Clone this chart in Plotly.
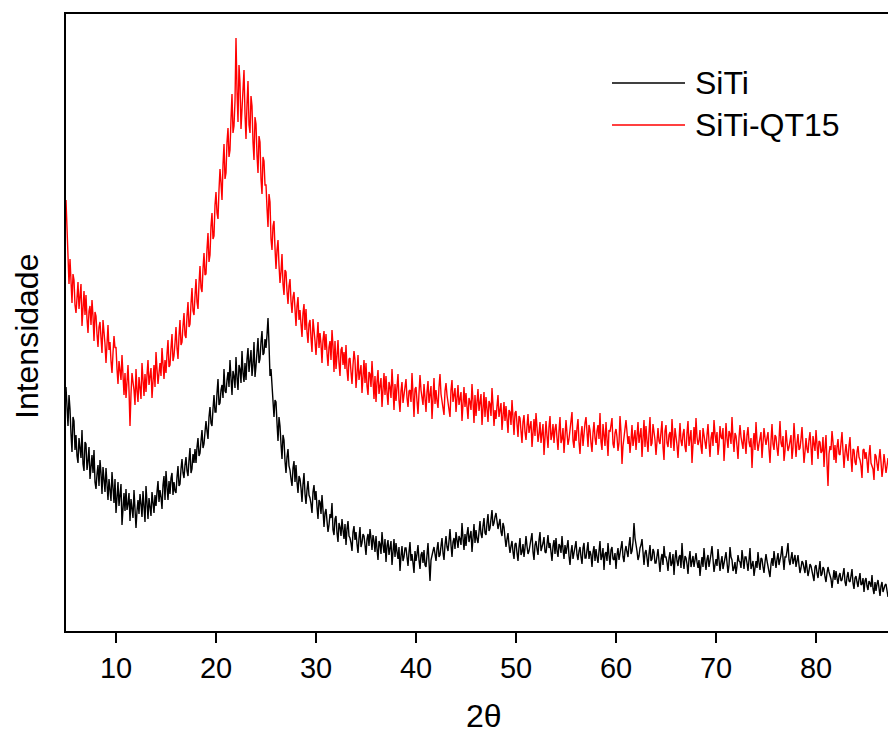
import numpy as np
import plotly.graph_objects as go

# 2-theta scan grid (degrees), 0.1 deg step
two_theta = np.round(np.arange(5.0, 87.2 + 1e-9, 0.1), 1)

# Diffracted intensity (a.u.) for each sample, one row per degree
siti = [
    244, 218, 205, 236, 222, 197, 179, 214, 210, 181,
    196, 175, 168, 193, 182, 173, 201, 167, 160, 189,
    187, 161, 170, 184, 152, 171, 176, 158, 181, 149,
    142, 157, 166, 145, 171, 158, 137, 164, 150, 139,
    163, 144, 131, 152, 140, 130, 159, 141, 128, 152,
    118, 133, 149, 125, 139, 147, 106, 129, 138, 120,
    142, 121, 127, 138, 110, 132, 119, 113, 141, 124,
    103, 120, 131, 117, 137, 127, 114, 140, 126, 109,
    145, 127, 112, 133, 124, 115, 139, 128, 118, 136,
    125, 139, 150, 129, 141, 134, 122, 146, 155, 131,
    160, 144, 131, 150, 137, 153, 158, 136, 149, 140,
    138, 154, 165, 145, 147, 162, 172, 158, 153, 166,
    174, 160, 155, 171, 183, 158, 162, 177, 168, 182,
    168, 184, 193, 175, 178, 190, 201, 183, 187, 199,
    210, 200, 192, 214, 224, 208, 205, 222, 236, 219,
    219, 238, 252, 226, 228, 241, 246, 233, 262, 240,
    238, 251, 259, 244, 271, 253, 236, 260, 255, 243,
    274, 253, 241, 266, 262, 248, 280, 258, 249, 268,
    251, 272, 283, 259, 270, 281, 255, 266, 289, 254,
    265, 281, 293, 268, 272, 289, 300, 276, 278, 292,
    283, 296, 313, 287, 255, 262, 249, 236, 214, 231,
    229, 208, 190, 214, 205, 187, 172, 196, 191, 170,
    158, 174, 182, 165, 161, 152, 145, 163, 170, 149,
    166, 149, 138, 155, 152, 143, 129, 147, 158, 137,
    127, 141, 150, 136, 133, 127, 118, 139, 146, 131,
    140, 124, 112, 131, 129, 117, 136, 121, 104, 118,
    122, 110, 99, 106, 117, 113, 128, 101, 96, 112,
    115, 98, 89, 108, 104, 95, 112, 101, 92, 107,
    86, 102, 110, 95, 93, 88, 80, 99, 105, 91,
    99, 87, 78, 93, 104, 84, 88, 97, 95, 86,
    76, 92, 97, 85, 102, 93, 81, 96, 90, 79,
    95, 82, 71, 90, 87, 77, 99, 86, 78, 92,
    69, 85, 91, 76, 84, 90, 66, 81, 92, 74,
    88, 79, 72, 84, 60, 75, 85, 70, 74, 83,
    83, 74, 65, 79, 89, 70, 77, 68, 58, 80,
    70, 77, 86, 71, 62, 76, 79, 68, 81, 66,
    64, 76, 88, 69, 50, 71, 77, 80, 84, 73,
    70, 82, 89, 74, 76, 85, 93, 78, 71, 86,
    95, 84, 80, 90, 102, 86, 74, 89, 93, 82,
    99, 91, 83, 95, 92, 86, 108, 93, 81, 97,
    85, 97, 104, 89, 96, 100, 79, 92, 107, 88,
    101, 92, 88, 99, 110, 97, 93, 105, 113, 98,
    96, 108, 117, 100, 103, 112, 121, 105, 108, 114,
    118, 110, 102, 107, 112, 99, 95, 108, 104, 93,
    84, 92, 98, 86, 78, 85, 90, 79, 72, 87,
    88, 78, 70, 84, 93, 76, 79, 87, 74, 83,
    95, 85, 77, 80, 86, 90, 98, 79, 71, 86,
    90, 82, 76, 91, 99, 80, 83, 88, 94, 79,
    78, 89, 96, 83, 88, 79, 70, 85, 91, 77,
    93, 80, 74, 87, 85, 78, 95, 82, 72, 86,
    77, 84, 91, 75, 66, 79, 86, 72, 80, 85,
    90, 76, 71, 80, 84, 74, 67, 83, 88, 73,
    73, 81, 89, 72, 80, 76, 64, 79, 85, 70,
    82, 74, 68, 80, 90, 71, 75, 83, 61, 77,
    79, 70, 88, 76, 66, 81, 84, 72, 71, 78,
    62, 76, 83, 71, 78, 84, 90, 74, 69, 80,
    85, 79, 74, 86, 94, 77, 80, 89, 108, 93,
    88, 80, 71, 75, 83, 86, 92, 73, 66, 78,
    81, 73, 64, 77, 86, 70, 72, 82, 79, 68,
    68, 75, 82, 70, 59, 72, 77, 66, 85, 74,
    74, 69, 60, 73, 79, 65, 68, 77, 56, 72,
    81, 70, 65, 74, 76, 63, 88, 71, 62, 75,
    73, 67, 57, 72, 80, 64, 70, 75, 64, 71,
    78, 69, 63, 71, 55, 66, 74, 64, 83, 70,
    61, 72, 76, 64, 69, 77, 85, 70, 59, 66,
    72, 65, 82, 71, 60, 69, 75, 62, 66, 73,
    79, 70, 58, 66, 84, 74, 71, 60, 63, 69,
    57, 65, 76, 70, 69, 63, 81, 72, 62, 74,
    74, 68, 60, 71, 83, 62, 67, 70, 55, 66,
    70, 63, 79, 68, 61, 73, 72, 64, 58, 69,
    77, 70, 64, 62, 54, 67, 73, 65, 80, 71,
    63, 72, 78, 66, 70, 76, 85, 69, 61, 74,
    74, 80, 88, 71, 66, 73, 79, 67, 72, 76,
    64, 70, 76, 66, 58, 63, 70, 68, 62, 58,
    71, 63, 55, 60, 67, 65, 60, 57, 50, 64,
    66, 58, 53, 62, 70, 55, 57, 64, 62, 54,
    49, 58, 64, 59, 55, 52, 43, 54, 61, 51,
    60, 53, 47, 55, 58, 50, 51, 57, 63, 49,
    45, 54, 59, 50, 49, 55, 62, 48, 42, 53,
    55, 49, 44, 52, 58, 46, 47, 53, 39, 50,
    53, 45, 41, 50, 48, 44, 56, 42, 37, 49,
    40, 47, 51, 43, 35, 45, 49, 39, 43, 46,
    47, 41, 34,
]

siti_qt15 = [
    431, 398, 365, 347, 372, 339, 328, 357, 351, 326,
    318, 333, 349, 322, 337, 347, 305, 329, 340, 316,
    336, 312, 298, 320, 325, 306, 331, 315, 290, 319,
    315, 297, 284, 304, 309, 293, 278, 311, 301, 287,
    268, 286, 306, 281, 289, 270, 258, 278, 295, 283,
    284, 262, 247, 270, 259, 251, 276, 244, 236, 258,
    233, 249, 266, 241, 205, 237, 258, 249, 241, 226,
    262, 240, 229, 254, 243, 232, 268, 246, 235, 257,
    239, 256, 271, 246, 258, 263, 233, 250, 266, 244,
    279, 262, 247, 258, 268, 255, 283, 267, 252, 271,
    258, 277, 291, 264, 266, 283, 297, 270, 275, 288,
    304, 283, 272, 295, 311, 286, 289, 305, 318, 296,
    293, 315, 329, 304, 307, 327, 343, 320, 316, 335,
    352, 329, 322, 347, 365, 343, 339, 362, 378, 356,
    357, 382, 398, 369, 376, 405, 418, 392, 395, 426,
    439, 418, 412, 441, 462, 448, 431, 466, 487, 452,
    458, 489, 503, 474, 481, 512, 537, 498, 505, 530,
    593, 540, 509, 566, 548, 502, 522, 551, 561, 517,
    492, 527, 550, 506, 498, 535, 525, 489, 471, 514,
    507, 476, 458, 495, 489, 452, 437, 474, 470, 446,
    446, 423, 404, 437, 429, 392, 381, 405, 410, 383,
    362, 381, 391, 366, 348, 359, 377, 347, 336, 361,
    359, 340, 327, 345, 352, 330, 318, 334, 339, 322,
    305, 325, 334, 311, 321, 307, 294, 318, 327, 301,
    322, 299, 288, 307, 311, 293, 279, 312, 303, 290,
    276, 295, 309, 283, 298, 287, 268, 291, 300, 281,
    297, 278, 265, 284, 290, 271, 301, 285, 259, 290,
    262, 275, 291, 268, 255, 281, 284, 266, 279, 262,
    286, 261, 250, 272, 273, 259, 247, 266, 280, 271,
    243, 257, 276, 251, 262, 266, 238, 259, 271, 248,
    268, 245, 236, 259, 257, 244, 270, 251, 232, 255,
    229, 249, 261, 237, 247, 253, 224, 240, 258, 236,
    255, 238, 226, 249, 244, 233, 262, 243, 221, 247,
    230, 244, 257, 231, 219, 240, 249, 228, 236, 245,
    252, 233, 224, 240, 241, 229, 258, 237, 214, 242,
    244, 230, 217, 238, 256, 241, 229, 226, 247, 232,
    219, 239, 250, 228, 238, 245, 212, 236, 253, 227,
    241, 230, 223, 244, 257, 237, 229, 224, 216, 240,
    248, 236, 227, 220, 214, 241, 251, 229, 235, 243,
    219, 235, 246, 226, 233, 239, 210, 232, 244, 224,
    238, 224, 212, 233, 229, 221, 247, 230, 208, 236,
    215, 229, 242, 220, 230, 237, 206, 225, 239, 214,
    234, 222, 209, 230, 227, 215, 243, 226, 205, 221,
    212, 225, 236, 214, 221, 228, 201, 216, 229, 210,
    225, 212, 198, 221, 219, 206, 231, 214, 196, 218,
    220, 207, 194, 215, 213, 200, 188, 209, 216, 199,
    191, 205, 217, 198, 207, 210, 184, 201, 212, 195,
    218, 204, 189, 197, 209, 188, 195, 207, 176, 199,
    210, 195, 183, 204, 215, 191, 196, 207, 188, 202,
    207, 193, 181, 200, 214, 188, 192, 203, 178, 194,
    211, 198, 186, 192, 203, 207, 219, 190, 183, 201,
    190, 203, 212, 189, 177, 196, 205, 185, 198, 208,
    214, 191, 184, 206, 201, 188, 179, 198, 209, 193,
    186, 200, 206, 192, 218, 189, 181, 207, 197, 185,
    209, 190, 175, 201, 199, 206, 213, 187, 183, 198,
    202, 194, 180, 188, 215, 199, 167, 185, 196, 204,
    211, 199, 187, 195, 178, 190, 206, 185, 193, 201,
    181, 197, 209, 188, 196, 203, 174, 192, 211, 184,
    205, 190, 179, 198, 214, 185, 188, 207, 199, 191,
    176, 195, 203, 190, 187, 199, 210, 184, 171, 200,
    206, 188, 184, 196, 199, 183, 212, 194, 180, 203,
    196, 186, 173, 195, 208, 190, 185, 197, 202, 184,
    179, 198, 210, 185, 193, 201, 168, 192, 204, 187,
    213, 194, 186, 190, 201, 184, 177, 203, 197, 188,
    182, 196, 207, 189, 174, 193, 199, 185, 211, 197,
    188, 199, 176, 186, 205, 194, 192, 203, 170, 187,
    208, 192, 183, 200, 197, 187, 214, 193, 179, 198,
    195, 185, 172, 193, 206, 194, 187, 182, 201, 190,
    177, 196, 204, 189, 184, 193, 163, 186, 198, 181,
    209, 190, 180, 187, 195, 199, 173, 184, 203, 193,
    186, 193, 199, 182, 168, 190, 207, 187, 181, 196,
    194, 183, 175, 191, 210, 188, 184, 195, 170, 180,
    201, 189, 180, 184, 192, 196, 172, 183, 208, 190,
    174, 188, 197, 181, 183, 192, 204, 186, 168, 179,
    193, 182, 178, 191, 199, 184, 166, 195, 188, 180,
    201, 186, 172, 190, 189, 178, 180, 194, 164, 183,
    196, 168, 145, 177, 185, 181, 200, 189, 171, 186,
    168, 184, 192, 177, 176, 188, 199, 180, 163, 178,
    187, 176, 170, 185, 194, 173, 159, 182, 181, 169,
    166, 179, 185, 174, 171, 165, 153, 181, 182, 172,
    179, 170, 158, 176, 186, 168, 165, 162, 151, 177,
    175, 166, 160, 172, 182, 169, 154, 163, 177, 168,
    158, 165, 173,
]

series = [("SiTi", siti, "#000000"), ("SiTi-QT15", siti_qt15, "#ff0000")]
x_ticks = [10, 20, 30, 40, 50, 60, 70, 80]

FONT = "Arial, Liberation Sans, sans-serif"

fig = go.Figure()
for name, vals, color in series:
    fig.add_trace(go.Scatter(
        x=two_theta, y=vals, mode="lines", name=name,
        line=dict(color=color, width=1.4), showlegend=False,
    ))

fig.update_layout(
    width=888, height=733,
    margin=dict(l=66, r=0, t=14, b=102),
    paper_bgcolor="white", plot_bgcolor="white",
    font=dict(family=FONT, color="black"),
    xaxis=dict(
        range=[5, 87.2], tickvals=x_ticks, ticks="outside", ticklen=10,
        tickwidth=2, tickcolor="black", showline=True, linewidth=2,
        linecolor="black", mirror=True, showgrid=False, zeroline=False,
        tickfont=dict(size=29, family=FONT),
    ),
    yaxis=dict(
        range=[0, 617], showticklabels=False, ticks="", showline=True,
        linewidth=2, linecolor="black", showgrid=False, zeroline=False,
    ),
)

# Axis titles
fig.add_annotation(text="Intensidade", xref="paper", yref="paper",
                   x=(27 - 66) / 822, y=(631 - 337) / 617, textangle=-90,
                   showarrow=False, font=dict(size=32, family=FONT),
                   xanchor="center", yanchor="middle")
fig.add_annotation(text="2θ", xref="paper", yref="paper",
                   x=(484 - 66) / 822, y=(631 - 735) / 617,
                   showarrow=False, font=dict(size=32, family=FONT),
                   xanchor="center", yanchor="bottom", borderpad=0)

# Legend: line samples with labels
for i, (name, _, color) in enumerate(series):
    ypx = 83 + 42 * i
    yp = (631 - ypx) / 617
    fig.add_shape(type="line", xref="paper", yref="paper",
                  x0=(612 - 66) / 822, x1=(685 - 66) / 822, y0=yp, y1=yp,
                  line=dict(color=color, width=1.5))
    fig.add_annotation(text=name, xref="paper", yref="paper",
                       x=(693 - 66) / 822, y=yp, showarrow=False,
                       xanchor="left", yanchor="middle",
                       font=dict(size=32, family=FONT))

fig.write_html("out.html")
